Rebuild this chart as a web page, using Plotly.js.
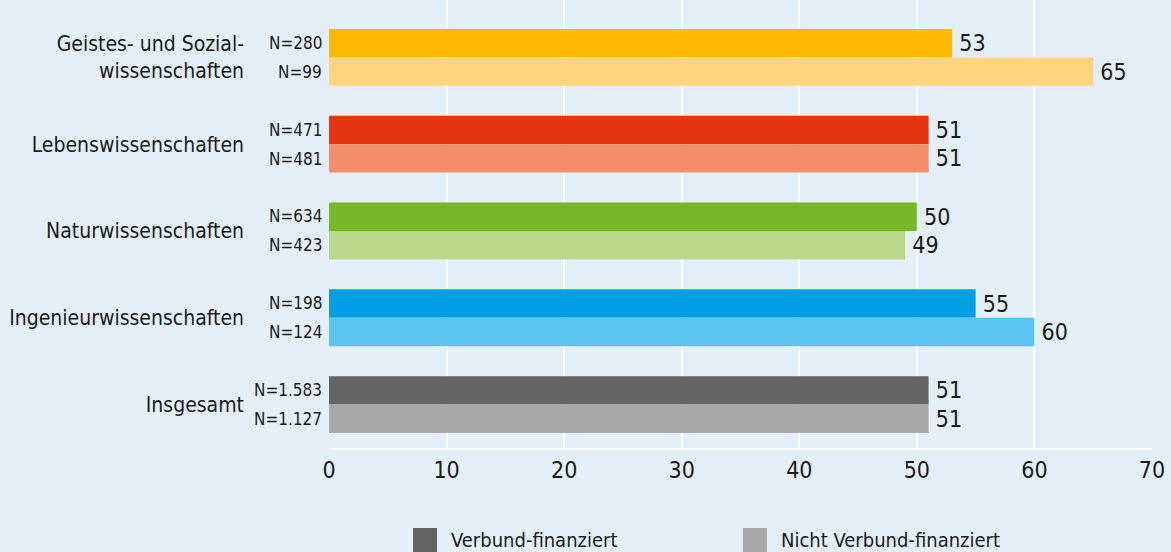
<!DOCTYPE html>
<html><head><meta charset="utf-8">
<script src="https://cdn.plot.ly/plotly-3.0.1.min.js"></script>
<style>body{margin:0;padding:0;background:#e5eff9;}#chart{width:1171px;height:552px;}</style>
</head><body><div id="chart"></div>
<script>
const categories = ["Geistes- und Sozial-<br>wissenschaften","Lebenswissenschaften","Naturwissenschaften","Ingenieurwissenschaften","Insgesamt"];
const seriesNames = ["Verbund-finanziert","Nicht Verbund-finanziert"];
const verbundValues = [53,51,50,55,51];
const nichtVerbundValues = [65,51,49,60,51];
const verbundN = ["N=280","N=471","N=634","N=198","N=1.583"];
const nichtVerbundN = ["N=99","N=481","N=423","N=124","N=1.127"];
const verbundColors = ["#fbb900","#e63312","#76b82a","#009fe3","#646464"];
const nichtVerbundColors = ["#fed47e","#f28e6a","#b8d78a","#5bc5f2","#a8a8a8"];
const legendColors = ["#646464","#a8a8a8"];
const xTicks = [0,10,20,30,40,50,60,70];

const FONT = "'DejaVu Sans Condensed','Liberation Sans Narrow',Roboto,sans-serif";
const bg = "#e5eff9";

const traces = [
  {type:"bar",orientation:"h",name:seriesNames[0],y:categories,x:verbundValues,
   marker:{color:verbundColors},text:verbundValues.map(v=>"\u2009"+v),textposition:"outside",
   textfont:{family:FONT,size:23,color:"#1a1a1a"},cliponaxis:false,constraintext:"none",showlegend:false,hoverinfo:"x"},
  {type:"bar",orientation:"h",name:seriesNames[1],y:categories,x:nichtVerbundValues,
   marker:{color:nichtVerbundColors},text:nichtVerbundValues.map(v=>"\u2009"+v),textposition:"outside",
   textfont:{family:FONT,size:23,color:"#1a1a1a"},cliponaxis:false,constraintext:"none",showlegend:false,hoverinfo:"x"}
];

const annotations = [];
categories.forEach((c,i)=>{
  annotations.push({x:0,y:c,xref:"x",yref:"y",text:verbundN[i],showarrow:false,xanchor:"right",yanchor:"middle",xshift:-5,yshift:14.5,font:{family:FONT,size:17,color:"#1a1a1a"}});
  annotations.push({x:0,y:c,xref:"x",yref:"y",text:nichtVerbundN[i],showarrow:false,xanchor:"right",yanchor:"middle",xshift:-5,yshift:-14.5,font:{family:FONT,size:17,color:"#1a1a1a"}});
});
// custom legend
const legX = [413,743];
const shapes = [];
seriesNames.forEach((n,i)=>{
  shapes.push({type:"rect",xref:"paper",yref:"paper",
    x0:(legX[i]-329)/823, x1:(legX[i]+24-329)/823,
    y0:(448-528)/448, y1:(448-552)/448, fillcolor:legendColors[i], line:{width:0}, layer:"above"});
  annotations.push({xref:"paper",yref:"paper",x:(legX[i]+36-329)/823,y:(448-540)/448,text:n,showarrow:false,
    xanchor:"left",yanchor:"middle",font:{family:FONT,size:20,color:"#1a1a1a"}});
});

const layout = {
  width:1171,height:552,
  paper_bgcolor:bg,plot_bgcolor:bg,
  margin:{l:329,r:19,t:0,b:104},
  barmode:"group",bargap:0.345,bargroupgap:0,
  showlegend:false,
  font:{family:FONT,color:"#1a1a1a"},
  xaxis:{range:[0,70],tickvals:xTicks,ticktext:xTicks.map(String),showgrid:true,gridcolor:"#ffffff",gridwidth:2,
    zeroline:false,showline:true,linecolor:"#ffffff",linewidth:2,ticks:"",tickfont:{family:FONT,size:23,color:"#1a1a1a"},fixedrange:true},
  yaxis:{type:"category",categoryorder:"array",categoryarray:categories,range:[4.5,-0.661],showgrid:false,zeroline:false,
    showline:false,ticks:"",ticklabelstandoff:84,tickfont:{family:FONT,size:21,color:"#1a1a1a"},fixedrange:true},
  annotations:annotations,shapes:shapes
};
Plotly.newPlot("chart",traces,layout,{displayModeBar:false,staticPlot:true});
</script></body></html>
